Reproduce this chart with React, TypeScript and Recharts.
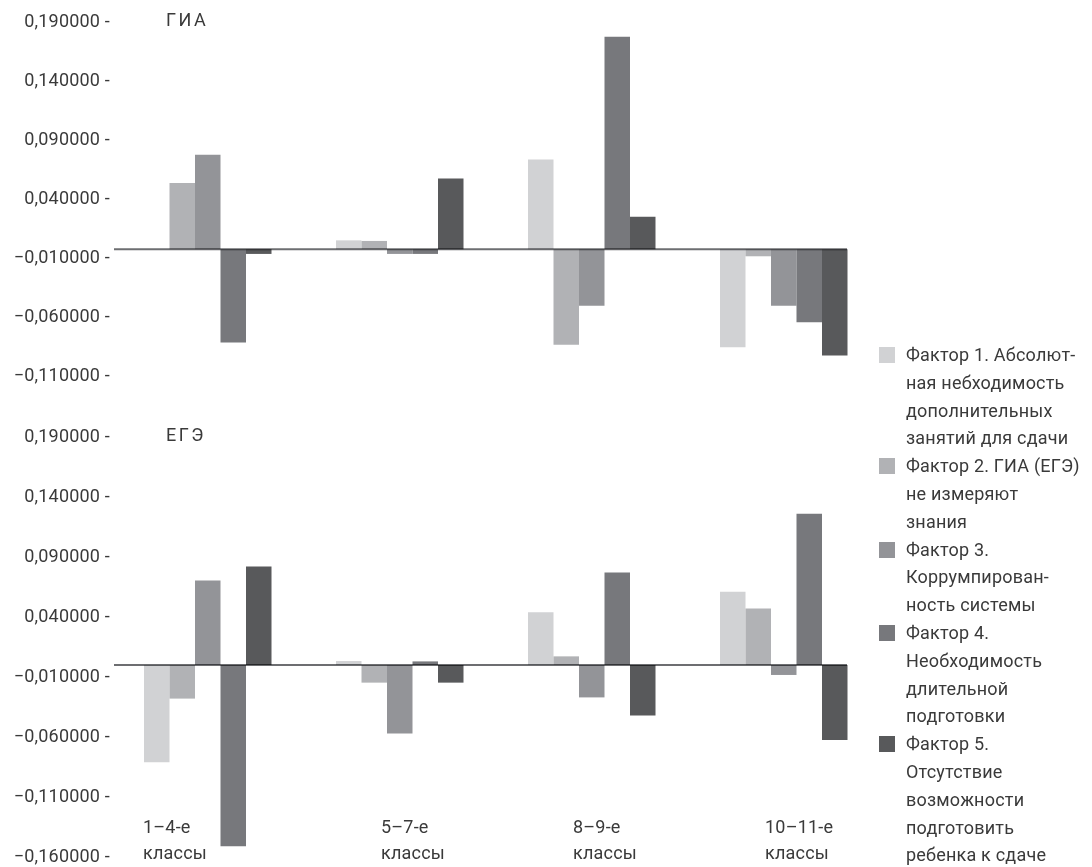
import { BarChart, Bar, XAxis, YAxis, ReferenceLine } from "recharts";

// categories (school grades)
const classGroups = ["1–4-е классы", "5–7-е классы", "8–9-е классы", "10–11-е классы"];

// ГИА panel
const giaFactor1 = [0, 0.0075, 0.076, -0.083];
const giaFactor2 = [0.056, 0.007, -0.081, -0.006];
const giaFactor3 = [0.08, -0.004, -0.048, -0.048];
const giaFactor4 = [-0.079, -0.004, 0.18, -0.062];
const giaFactor5 = [-0.004, 0.06, 0.0275, -0.09];

// ЕГЭ panel
const egeFactor1 = [-0.081, 0.0033, 0.044, 0.061];
const egeFactor2 = [-0.028, -0.0147, 0.0072, 0.047];
const egeFactor3 = [0.0705, -0.057, -0.027, -0.0083];
const egeFactor4 = [-0.151, 0.003, 0.077, 0.126];
const egeFactor5 = [0.082, -0.0147, -0.042, -0.0625];

const giaTicks = [0.19, 0.14, 0.09, 0.04, -0.01, -0.06, -0.11];
const egeTicks = [0.19, 0.14, 0.09, 0.04, -0.01, -0.06, -0.11, -0.16];

const factorKeys = ["f1", "f2", "f3", "f4", "f5"];
const factorNames = [
  "Фактор 1. Абсолют-\nная небходимость\nдополнительных\nзанятий для сдачи",
  "Фактор 2. ГИА (ЕГЭ)\nне измеряют\nзнания",
  "Фактор 3.\nКоррумпирован-\nность системы",
  "Фактор 4.\nНеобходимость\nдлительной\nподготовки",
  "Фактор 5.\nОтсутствие\nвозможности\nподготовить\nребенка к сдаче",
];
const factorColors = ["#d1d2d4", "#b1b2b5", "#939498", "#77787c", "#58595b"];

const FONT = 'Roboto, "Liberation Sans", sans-serif';
const TEXT = "#3a3a3a";
const SPACING = 0.2;

const giaData = classGroups.map((name, i) => ({
  name,
  f1: giaFactor1[i],
  f2: giaFactor2[i],
  f3: giaFactor3[i],
  f4: giaFactor4[i],
  f5: giaFactor5[i],
}));

const egeData = classGroups.map((name, i) => ({
  name,
  f1: egeFactor1[i],
  f2: egeFactor2[i],
  f3: egeFactor3[i],
  f4: egeFactor4[i],
  f5: egeFactor5[i],
}));

const formatValue = (v: number) =>
  (v < 0 ? "\u2212" : "") + Math.abs(v).toFixed(6).replace(".", ",");

function ValueTick(props: any) {
  const { x, y, payload, shift } = props;
  return (
    <text
      x={x - 2}
      y={y + shift}
      dy={6.5}
      textAnchor="end"
      fill={TEXT}
      fontSize={18}
      fontFamily={FONT}
      letterSpacing={SPACING}
    >
      {formatValue(payload.value) + " -"}
    </text>
  );
}

function ClassTick(props: any) {
  const { x, y, payload, index } = props;
  const [top, bottom] = payload.value.split(" ");
  const left = x + (index === 0 ? -65 : -19);
  return (
    <text fill={TEXT} fontSize={18} fontFamily={FONT} letterSpacing={SPACING} textAnchor="start">
      <tspan x={left} y={y - 24}>
        {top}
      </tspan>
      <tspan x={left} y={y + 2}>
        {bottom}
      </tspan>
    </text>
  );
}

// zero line stops at the end of the last group, like the original
const zeroLine = (p: any) => (
  <line
    x1={p.x1 + 2}
    y1={p.y1}
    x2={p.x2 - 33}
    y2={p.y2}
    stroke="#6d6e71"
    strokeWidth={2}
    style={{ mixBlendMode: "multiply" }}
  />
);

function Panel({ data, ticks, height, margin, shift, showClasses }: any) {
  return (
    <BarChart
      width={1092}
      height={height}
      data={data}
      margin={margin}
      barGap={0}
      barSize={25.5}
    >
      <XAxis
        dataKey="name"
        hide={!showClasses}
        height={10}
        axisLine={false}
        tickLine={false}
        tickSize={0}
        tickMargin={0}
        interval={0}
        tick={<ClassTick />}
      />
      <YAxis
        width={112}
        domain={[ticks[ticks.length - 1], ticks[0]]}
        ticks={ticks}
        interval={0}
        axisLine={false}
        tickLine={false}
        tickSize={0}
        tickMargin={0}
        tick={<ValueTick shift={shift} />}
      />
      {factorKeys.map((key, i) => (
        <Bar key={key} dataKey={key} fill={factorColors[i]} isAnimationActive={false} />
      ))}
      <ReferenceLine y={0} shape={zeroLine} />
    </BarChart>
  );
}

const titleStyle = {
  position: "absolute" as const,
  left: 166,
  fontSize: 18,
  lineHeight: "20px",
  fontFamily: FONT,
  color: TEXT,
  letterSpacing: 2.5,
};

export default function App() {
  return (
    <div
      style={{
        position: "absolute",
        left: 0,
        top: 0,
        width: 1092,
        height: 867,
        overflow: "hidden",
        background: "#fff",
      }}
    >
      <div style={{ position: "absolute", left: 0, top: 0 }}>
        <Panel
          data={giaData}
          ticks={giaTicks}
          height={420}
          margin={{ top: 25, right: 212, bottom: 41, left: 0 }}
          shift={-5}
          showClasses={false}
        />
      </div>
      <div style={{ position: "absolute", left: 0, top: 400 }}>
        <Panel
          data={egeData}
          ticks={egeTicks}
          height={467}
          margin={{ top: 37, right: 212, bottom: 0, left: 0 }}
          shift={-2}
          showClasses={true}
        />
      </div>
      <div style={{ ...titleStyle, top: 10 }}>ГИА</div>
      <div style={{ ...titleStyle, top: 425 }}>ЕГЭ</div>
      <div
        style={{
          position: "absolute",
          left: 879,
          top: 341,
          fontSize: 18,
          lineHeight: "27.8px",
          fontFamily: FONT,
          color: TEXT,
          letterSpacing: SPACING,
        }}
      >
        {factorNames.map((name, i) => (
          <div key={name} style={{ display: "flex", alignItems: "flex-start" }}>
            <div
              style={{
                width: 16,
                height: 16,
                marginTop: 6,
                marginRight: 11,
                flexShrink: 0,
                background: factorColors[i],
              }}
            />
            <div style={{ whiteSpace: "pre" }}>{name}</div>
          </div>
        ))}
      </div>
    </div>
  );
}
